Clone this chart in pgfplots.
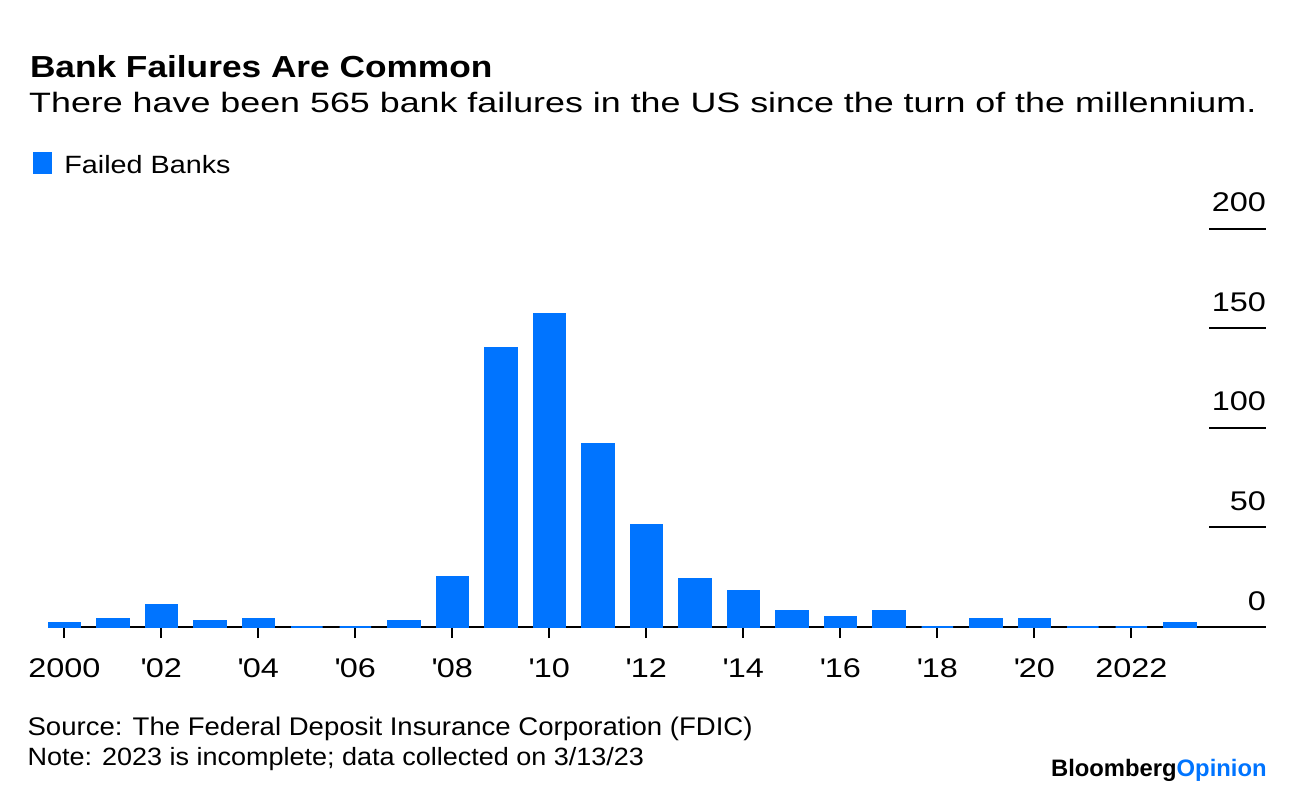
\documentclass[border=0pt]{standalone}
\usepackage{pgfplots}
\pgfplotsset{compat=1.18}
\usepackage{fontspec}
\setmainfont{Liberation Sans}
\newfontfamily\fTitle{Liberation Sans}[FakeStretch=1.16]
\newfontfamily\fSub{Liberation Sans}[FakeStretch=1.28]
\newfontfamily\fLeg{Liberation Sans}[FakeStretch=1.15]
\newfontfamily\fTick{Liberation Sans}[FakeStretch=1.2]
\newfontfamily\fSrc{Liberation Sans}[FakeStretch=1.08]
\newfontfamily\fLogo{Liberation Sans}
\definecolor{barblue}{RGB}{0,116,255}

% idx = year - 2000
\pgfplotstableread{
idx year count
0 2000 2
1 2001 4
2 2002 11
3 2003 3
4 2004 4
5 2005 0
6 2006 0
7 2007 3
8 2008 25
9 2009 140
10 2010 157
11 2011 92
12 2012 51
13 2013 24
14 2014 18
15 2015 8
16 2016 5
17 2017 8
18 2018 0
19 2019 4
20 2020 4
21 2021 0
22 2022 0
23 2023 2
}\failures

\begin{document}
\begin{tikzpicture}
\useasboundingbox (0,0) rectangle (648pt,397pt);
\node[anchor=base west, inner sep=0pt, font=\fTitle\fontsize{15.2}{18}\selectfont\bfseries] at (14.8pt,358.4pt) {Bank Failures Are Common};
\node[anchor=base west, inner sep=0pt, font=\fSub\fontsize{14}{17}\selectfont] at (14.4pt,340.6pt) {There have been 565 bank failures in the US since the turn of the millennium.};
\begin{axis}[
  at={(24.15pt,83.5pt)}, anchor=south west,
  scale only axis, width=608.7pt, height=199.25pt,
  xmin=-0.33, xmax=24.77, ymin=0, ymax=200,
  clip=false,
  axis x line=bottom, axis y line=right,
  axis line style={-},
  x axis line style={line width=1pt},
  y axis line style={draw=none},
  tick align=outside,
  major tick length=5.5pt,
  xtick={0,2,...,22},
  xticklabels={2000,\textquotesingle02,\textquotesingle04,\textquotesingle06,\textquotesingle08,\textquotesingle10,\textquotesingle12,\textquotesingle14,\textquotesingle16,\textquotesingle18,\textquotesingle20,2022},
  xtick style={line width=1pt, black},
  ytick={0,50,100,150,200},
  yticklabels={0,50,100,150,200},
  ytick style={draw=none},
  tick label style={font=\fTick\fontsize{13.5}{16}\selectfont},
  xticklabel style={anchor=base, inner sep=0pt, yshift=-19.5pt},
  yticklabel style={anchor=base east, inner sep=0pt, yshift=8.4pt, xshift=-5.2pt},
  legend style={draw=none, fill=none, inner sep=0pt, outer sep=0pt,
    at={(axis description cs:0,1)}, anchor=south west, xshift=-7.8pt, yshift=25.95pt,
    font=\fLeg\fontsize{12.5}{15}\selectfont,
    nodes={inner sep=0pt},
    /tikz/every odd column/.append style={column sep=6.2pt}},
  legend image code/.code={\fill[barblue] (0pt,-3.3pt) rectangle (8.65pt,6.35pt);},
]
\addplot[ybar, bar width=15.7pt, fill=barblue, draw=barblue, line width=1pt] table[x=idx, y=count] {\failures};
\addlegendentry{Failed Banks}
\pgfplotsinvokeforeach{50,100,150,200}{
  \draw[line width=1pt, black] (axis cs:24.77,#1) -- ([xshift=-28.3pt]axis cs:24.77,#1);
}
\end{axis}
\node[anchor=base west, inner sep=0pt, font=\fSrc\fontsize{12.75}{15}\selectfont] at (13.6pt,29.5pt) {Source: The Federal Deposit Insurance Corporation (FDIC)};
\node[anchor=base west, inner sep=0pt, font=\fSrc\fontsize{12.5}{15}\selectfont] at (13.6pt,14.5pt) {Note: 2023 is incomplete; data collected on 3/13/23};
\node[anchor=base east, inner sep=0pt, font=\fLogo\fontsize{11.9}{14}\selectfont\bfseries] at (633.5pt,8.65pt) {Bloomberg\textcolor{barblue}{Opinion}};
\end{tikzpicture}
\end{document}
